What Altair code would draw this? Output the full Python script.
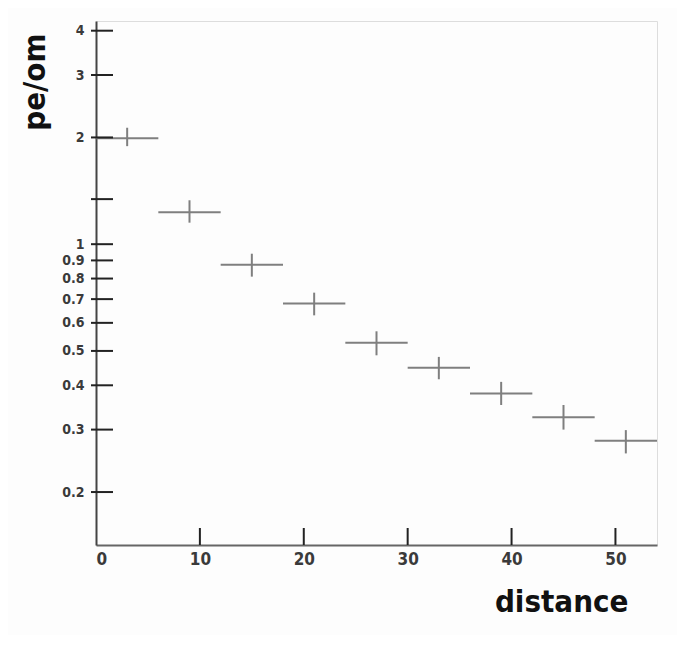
import altair as alt
import pandas as pd

# ---- data ----
x_center = [3, 9, 15, 21, 27, 33, 39, 45, 51]
x_low = [0, 6, 12, 18, 24, 30, 36, 42, 48]
x_high = [6, 12, 18, 24, 30, 36, 42, 48, 54]
y_val = [1.99, 1.23, 0.875, 0.680, 0.527, 0.448, 0.379, 0.325, 0.279]
y_low = [1.89, 1.15, 0.81, 0.63, 0.486, 0.416, 0.352, 0.300, 0.257]
y_high = [2.13, 1.33, 0.94, 0.73, 0.568, 0.481, 0.409, 0.352, 0.299]

y_ticks = [0.2, 0.3, 0.4, 0.5, 0.6, 0.7, 0.8, 0.9, 1, 1.34, 2, 3, 4]
x_ticks = [10, 20, 30, 40, 50]

W, H = 561, 524
FONT_T = "DejaVu Sans Condensed"
FONT_L = "DejaVu Sans Condensed"

df = pd.DataFrame({"x": x_center, "xl": x_low, "xh": x_high,
                   "y": y_val, "yl": y_low, "yh": y_high})
dyt = pd.DataFrame({"y": y_ticks})
dxt = pd.DataFrame({"x": x_ticks})

xs = alt.Scale(domain=[0, 54], nice=False, zero=False)
ys = alt.Scale(type="log", domain=[0.1418, 4.26], nice=False)

x_axis = alt.Axis(
    values=[0] + x_ticks, ticks=False, grid=False, labelPadding=6,
    labelFont=FONT_L, labelFontSize=17, labelFontWeight="bold",
    labelColor="#3a3a3a", domainColor="#666", domainWidth=2,
    title="distance", titleFont=FONT_T, titleFontSize=31,
    titleFontWeight="bold", titleColor="#111", titleAnchor="end",
    titleAlign="right", titleBaseline="alphabetic",
    titleX=532, titleY=66)

y_axis = alt.Axis(
    values=y_ticks, ticks=False, grid=False, labelPadding=12,
    labelExpr="(datum.value > 1.3 && datum.value < 1.4) ? '' : format(datum.value, '~g')",
    labelFont=FONT_L, labelFontSize=14, labelFontWeight="bold",
    labelColor="#3a3a3a", domainColor="#444", domainWidth=2,
    title="pe/om", titleFont=FONT_T, titleFontSize=31,
    titleFontWeight="bold", titleColor="#111", titleAngle=-90,
    titleAlign="right", titleBaseline="alphabetic",
    titleX=-52, titleY=12)

base = alt.Chart(df)

hbar = base.mark_rule(color="#7f7f7f", strokeWidth=2).encode(
    x=alt.X("xl:Q", scale=xs, axis=x_axis),
    x2="xh:Q",
    y=alt.Y("y:Q", scale=ys, axis=y_axis),
)

vbar = base.mark_rule(color="#7f7f7f", strokeWidth=2).encode(
    x=alt.X("x:Q", scale=xs, axis=x_axis),
    y=alt.Y("yl:Q", scale=ys, axis=y_axis),
    y2="yh:Q",
)

ytick = alt.Chart(dyt).mark_rule(color="#222", strokeWidth=2).encode(
    y=alt.Y("y:Q", scale=ys, axis=y_axis),
    x=alt.value(-5), x2=alt.value(17),
)

xtick = alt.Chart(dxt).mark_rule(color="#222", strokeWidth=2).encode(
    x=alt.X("x:Q", scale=xs, axis=x_axis),
    y=alt.value(H - 17), y2=alt.value(H),
)

chart = alt.layer(hbar, vbar, ytick, xtick).properties(
    width=W, height=H,
    autosize=alt.AutoSizeParams(type="none"),
    padding={"left": 88, "top": 13, "right": 20, "bottom": 90},
).configure_view(stroke="#777", strokeWidth=2).configure(background="#fdfdfd")

chart.save("out.html", embed_options={"renderer": "svg", "actions": False})
